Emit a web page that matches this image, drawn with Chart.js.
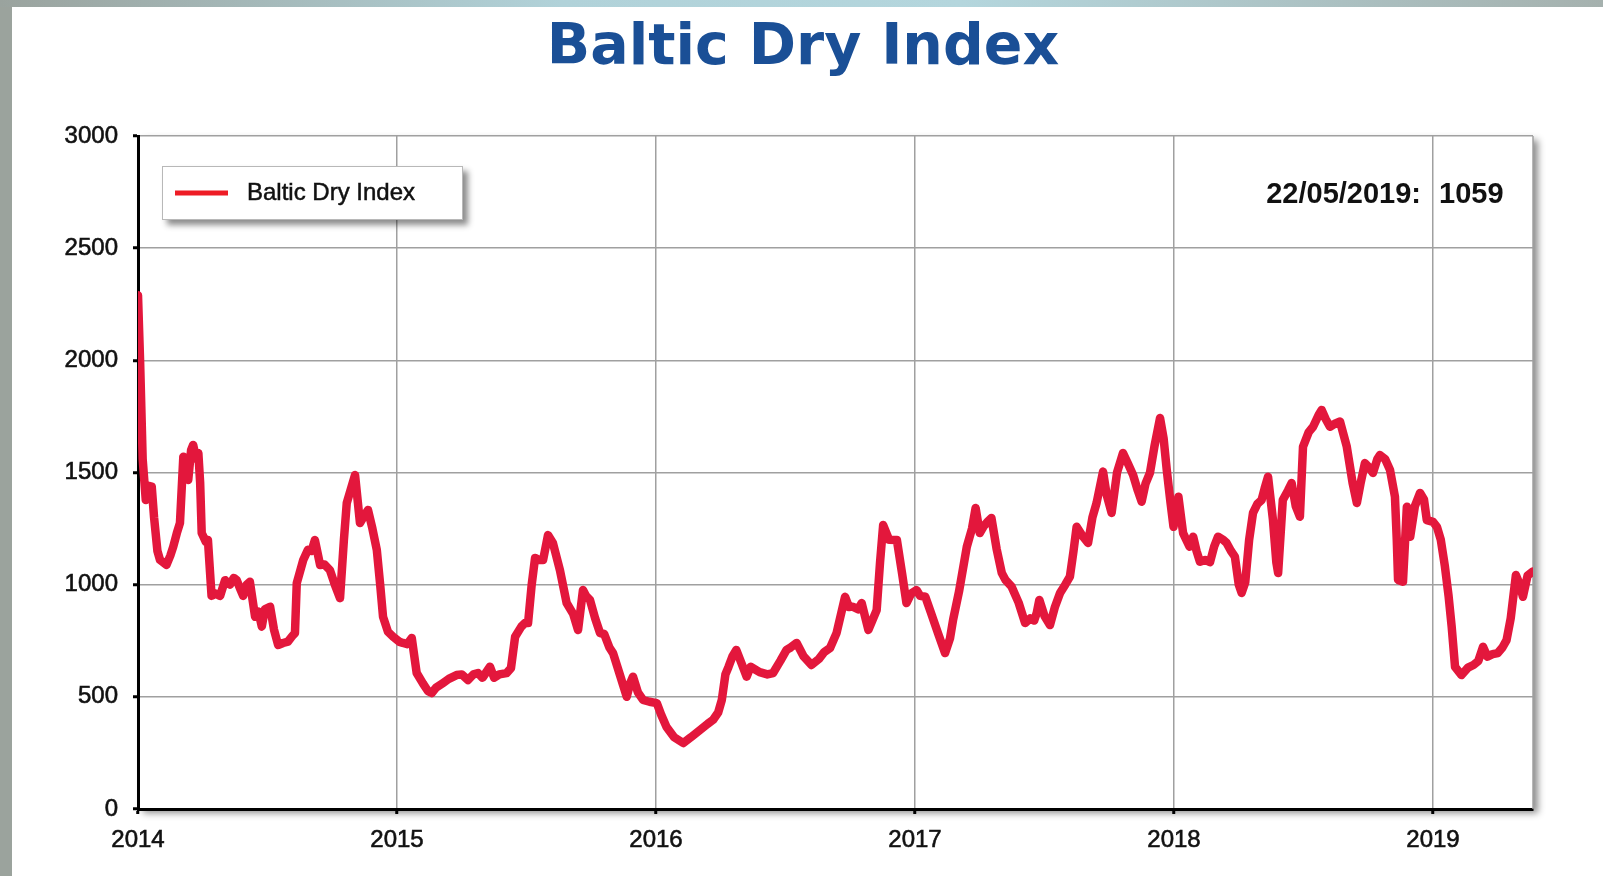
<!DOCTYPE html>
<html>
<head>
<meta charset="utf-8">
<title>Baltic Dry Index</title>
<script src="https://cdn.jsdelivr.net/npm/chart.js@4.4.1/dist/chart.umd.min.js"></script>
<style>
    html, body { margin: 0; padding: 0; background: #fff; overflow: hidden; }
    #wrap { position: relative; width: 1603px; height: 876px; }
    .side { position: absolute; left: 0; top: 0; width: 12px; height: 876px; background: #9ba39d; }
    .top { position: absolute; left: 0; top: 0; width: 1603px; height: 7px;
           background: linear-gradient(90deg, #9aa39e 0%, #b1d2d9 35%, #b4d6dd 60%, #a5b1ae 100%); }
    canvas { position: absolute; left: 0; top: 0; }
</style>
</head>
<body>
<div id="wrap">
    <div class="side"></div>
    <div class="top"></div>
    <canvas id="bdiChart" width="1603" height="876"></canvas>
</div>
<script>
const TITLE = 'Baltic Dry Index';
const SERIES_LABEL = 'Baltic Dry Index';
const LAST_DATE = '22/05/2019:';

const yearTicks = [2014, 2015, 2016, 2017, 2018, 2019];
const valueTicks = [0, 500, 1000, 1500, 2000, 2500, 3000];

// dates as decimal years
const dates = [
    2014.000, 2014.008, 2014.018, 2014.030, 2014.042, 2014.053, 2014.062, 2014.075, 2014.085, 2014.110,
    2014.125, 2014.136, 2014.150, 2014.162, 2014.175, 2014.185, 2014.194, 2014.205, 2014.213, 2014.225,
    2014.233, 2014.240, 2014.246, 2014.262, 2014.270, 2014.284, 2014.300, 2014.317, 2014.336, 2014.355,
    2014.370, 2014.381, 2014.395, 2014.406, 2014.420, 2014.432, 2014.452, 2014.465, 2014.478, 2014.490,
    2014.510, 2014.525, 2014.541, 2014.560, 2014.579, 2014.595, 2014.606, 2014.613, 2014.638, 2014.656,
    2014.670, 2014.683, 2014.703, 2014.720, 2014.741, 2014.760, 2014.780, 2014.795, 2014.806, 2014.838,
    2014.857, 2014.870, 2014.888, 2014.905, 2014.922, 2014.935, 2014.946, 2014.965, 2014.985,
    2015.010, 2015.023, 2015.040, 2015.057, 2015.076, 2015.100, 2015.120, 2015.134, 2015.150, 2015.178,
    2015.200, 2015.230, 2015.250, 2015.274, 2015.295, 2015.313, 2015.330, 2015.359, 2015.375, 2015.395,
    2015.423, 2015.440, 2015.456, 2015.480, 2015.494, 2015.506, 2015.520, 2015.533, 2015.550, 2015.564,
    2015.583, 2015.602, 2015.629, 2015.655, 2015.680, 2015.699, 2015.718, 2015.730, 2015.745, 2015.765,
    2015.784, 2015.800, 2015.820, 2015.834, 2015.860, 2015.887, 2015.900, 2015.911, 2015.930, 2015.950,
    2015.975,
    2016.003, 2016.020, 2016.040, 2016.070, 2016.105, 2016.135, 2016.170, 2016.200, 2016.220, 2016.240,
    2016.254, 2016.268, 2016.280, 2016.295, 2016.310, 2016.330, 2016.350, 2016.365, 2016.400, 2016.430,
    2016.452, 2016.480, 2016.504, 2016.520, 2016.543, 2016.570, 2016.600, 2016.630, 2016.650, 2016.672,
    2016.697, 2016.730, 2016.745, 2016.760, 2016.780, 2016.794, 2016.820, 2016.835, 2016.852, 2016.865,
    2016.877, 2016.900, 2016.930, 2016.950, 2016.967, 2016.985,
    2017.006, 2017.020, 2017.040, 2017.060, 2017.090, 2017.116, 2017.135, 2017.147, 2017.170, 2017.200,
    2017.220, 2017.234, 2017.250, 2017.265, 2017.280, 2017.295, 2017.315, 2017.335, 2017.350, 2017.373,
    2017.400, 2017.425, 2017.445, 2017.460, 2017.470, 2017.480, 2017.500, 2017.521, 2017.540, 2017.560,
    2017.580, 2017.598, 2017.612, 2017.624, 2017.645, 2017.668, 2017.685, 2017.701, 2017.726, 2017.740,
    2017.759, 2017.780, 2017.803, 2017.822, 2017.842, 2017.860, 2017.875, 2017.890, 2017.907, 2017.925,
    2017.946, 2017.960, 2017.972, 2017.985, 2017.998,
    2018.017, 2018.035, 2018.060, 2018.074, 2018.087, 2018.100, 2018.120, 2018.139, 2018.155, 2018.170,
    2018.190, 2018.203, 2018.220, 2018.235, 2018.250, 2018.261, 2018.275, 2018.290, 2018.305, 2018.322,
    2018.338, 2018.350, 2018.363, 2018.382, 2018.395, 2018.402, 2018.420, 2018.440, 2018.454, 2018.470,
    2018.486, 2018.498, 2018.520, 2018.537, 2018.560, 2018.570, 2018.585, 2018.602, 2018.625, 2018.641,
    2018.667, 2018.690, 2018.706, 2018.720, 2018.737, 2018.755, 2018.768, 2018.785, 2018.795, 2018.815,
    2018.834, 2018.853, 2018.860, 2018.865, 2018.884, 2018.899, 2018.912, 2018.930, 2018.950, 2018.965,
    2018.976,
    2019.000, 2019.015, 2019.030, 2019.046, 2019.060, 2019.072, 2019.085, 2019.110, 2019.135, 2019.156,
    2019.175, 2019.193, 2019.210, 2019.230, 2019.250, 2019.268, 2019.284, 2019.300, 2019.320, 2019.335,
    2019.347, 2019.365, 2019.386
];

const bdi = [
    2290, 2000, 1560, 1377, 1440, 1437, 1300, 1150, 1110, 1088,
    1130, 1169, 1230, 1275, 1570, 1480, 1467, 1600, 1623, 1560,
    1587, 1453, 1230, 1190, 1199, 950, 960, 950, 1020, 1000,
    1030, 1020, 980, 950, 1000, 1013, 857, 880, 813, 890,
    902, 800, 731, 740, 746, 770, 784, 1007, 1110, 1155,
    1150, 1199, 1088, 1090, 1065, 1000, 940, 1200, 1364, 1489,
    1275, 1300, 1333, 1250, 1155, 1000, 857, 790, 768,
    745, 740, 735, 762, 606, 560, 525, 517, 540, 562,
    580, 597, 600, 575, 600, 606, 585, 634, 585, 600,
    606, 628, 768, 813, 829, 829, 1000, 1119, 1110, 1110,
    1221, 1186, 1065, 918, 870, 798, 976, 950, 932, 850,
    784, 780, 720, 695, 600, 500, 560, 590, 520, 486,
    478,
    472, 420, 367, 320, 294, 320, 352, 380, 397, 430,
    486, 600, 634, 680, 709, 650, 590, 634, 610, 600,
    606, 660, 709, 720, 740, 680, 642, 670, 700, 718,
    784, 946, 900, 902, 890, 918, 798, 840, 887, 1100,
    1266, 1200, 1199, 1050, 918, 960,
    976, 950, 946, 880, 780, 695, 760, 843, 970, 1169,
    1250, 1342, 1230, 1260, 1280, 1297, 1160, 1052, 1020, 991,
    920, 829, 850, 840, 874, 932, 860, 820, 900, 963,
    1000, 1036, 1150, 1258, 1220, 1186, 1300, 1364, 1504, 1400,
    1320, 1500, 1587, 1540, 1489, 1420, 1370, 1450, 1498, 1620,
    1743, 1650, 1511, 1380, 1258,
    1392, 1230, 1169, 1214, 1150, 1102, 1110, 1100, 1170, 1214,
    1200, 1186, 1150, 1125, 1000, 963, 1010, 1200, 1320, 1360,
    1377, 1430, 1481, 1288, 1100, 1052, 1377, 1420, 1453, 1350,
    1303, 1615, 1680, 1704, 1760, 1779, 1740, 1704, 1720, 1727,
    1615, 1450, 1364, 1450, 1542, 1520, 1498, 1560, 1578, 1560,
    1511, 1392, 1200, 1021, 1013, 1347, 1214, 1350, 1409, 1380,
    1288,
    1280, 1258, 1200, 1080, 950, 813, 634, 597, 630, 642,
    660, 723, 679, 690, 695, 720, 753, 850, 1043, 1000,
    946, 1040, 1059
];

const LINE_RED = '#e3173c';
const FONT = '"Liberation Sans", Arial, sans-serif';

// frame shadow, right border, title, legend and last-value note
const decorations = {
    id: 'decorations',
    beforeDraw(chart) {
        const { ctx, chartArea: a } = chart;
        ctx.save();
        ctx.shadowColor = 'rgba(0,0,0,0.45)';
        ctx.shadowBlur = 7;
        ctx.shadowOffsetX = 5;
        ctx.shadowOffsetY = 4;
        ctx.fillStyle = '#fff';
        ctx.fillRect(a.left, a.top, a.right - a.left, a.bottom - a.top);
        ctx.restore();
    },
    beforeDatasetsDraw(chart) {
        const { ctx, chartArea: a } = chart;
        ctx.save();
        ctx.strokeStyle = '#a0a0a0';
        ctx.lineWidth = 1.5;
        ctx.beginPath();
        ctx.moveTo(a.right, a.top);
        ctx.lineTo(a.right, a.bottom);
        ctx.stroke();
        ctx.restore();
    },
    afterDraw(chart) {
        const ctx = chart.ctx;
        ctx.save();

        ctx.fillStyle = '#1a4f96';
        ctx.font = 'bold 57px "DejaVu Sans", Verdana, sans-serif';
        ctx.textAlign = 'center';
        ctx.textBaseline = 'alphabetic';
        ctx.fillText(TITLE, 803, 64);

        // legend box
        ctx.save();
        ctx.shadowColor = 'rgba(0,0,0,0.45)';
        ctx.shadowBlur = 6;
        ctx.shadowOffsetX = 5;
        ctx.shadowOffsetY = 5;
        ctx.fillStyle = '#fff';
        ctx.fillRect(162, 166, 301, 54);
        ctx.restore();
        ctx.strokeStyle = '#b8b8b8';
        ctx.lineWidth = 1;
        ctx.strokeRect(162.5, 166.5, 300, 53);

        ctx.strokeStyle = '#ee1c25';
        ctx.lineWidth = 5;
        ctx.beginPath();
        ctx.moveTo(175, 193);
        ctx.lineTo(228, 193);
        ctx.stroke();

        ctx.fillStyle = '#111';
        ctx.strokeStyle = '#111';
        ctx.lineWidth = 0.5;
        ctx.font = '24px ' + FONT;
        ctx.textAlign = 'left';
        ctx.fillText(chart.data.datasets[0].label, 247, 200);
        ctx.strokeText(chart.data.datasets[0].label, 247, 200);

        // last value note
        const last = chart.data.datasets[0].data.at(-1).y;
        ctx.font = 'bold 29px ' + FONT;
        ctx.textAlign = 'right';
        ctx.fillText(LAST_DATE, 1421, 203);
        ctx.textAlign = 'left';
        ctx.fillText(String(last), 1439, 203);

        ctx.restore();
    }
};

document.addEventListener('DOMContentLoaded', () => {
    const ctx = document.getElementById('bdiChart').getContext('2d');

    const tickFont = (size) => ({
        color: '#111',
        textStrokeColor: '#111',
        textStrokeWidth: 0.6,
        font: { family: FONT, size: size },
    });

    const chart = new Chart(ctx, {
        type: 'line',
        data: {
            datasets: [{
                label: SERIES_LABEL,
                data: dates.map((d, i) => ({ x: d, y: bdi[i] })),
                borderColor: LINE_RED,
                borderWidth: 8.5,
                pointRadius: 0,
                tension: 0,
                borderJoinStyle: 'round',
                borderCapStyle: 'round',
                fill: false,
            }]
        },
        options: {
            responsive: false,
            animation: false,
            devicePixelRatio: 1,
            layout: {
                padding: { top: 136, right: 70, left: 0, bottom: 0 },
            },
            plugins: {
                legend: { display: false },
                tooltip: { enabled: false },
            },
            scales: {
                x: {
                    type: 'linear',
                    min: yearTicks[0],
                    max: dates[dates.length - 1],
                    afterBuildTicks: (s) => { s.ticks = yearTicks.map(v => ({ value: v })); },
                    afterFit: (s) => { s.height = 67; },
                    grid: { color: '#a0a0a0', lineWidth: 1.5, tickColor: '#000', tickWidth: 3, tickLength: 5 },
                    border: { color: '#000', width: 3 },
                    ticks: Object.assign(tickFont(24), {
                        padding: 12,
                        maxRotation: 0,
                        autoSkip: false,
                        callback: (v) => String(v),
                    }),
                },
                y: {
                    min: valueTicks[0],
                    max: valueTicks[valueTicks.length - 1],
                    afterBuildTicks: (s) => { s.ticks = valueTicks.map(v => ({ value: v })); },
                    afterFit: (s) => { s.width = 138; },
                    grid: { color: '#a0a0a0', lineWidth: 1.5, tickColor: '#000', tickWidth: 3, tickLength: 5 },
                    border: { color: '#000', width: 3 },
                    ticks: Object.assign(tickFont(24), {
                        padding: 15,
                        callback: (v) => String(v),
                    }),
                },
            },
        },
        plugins: [decorations],
    });
});
</script>
</body>
</html>
